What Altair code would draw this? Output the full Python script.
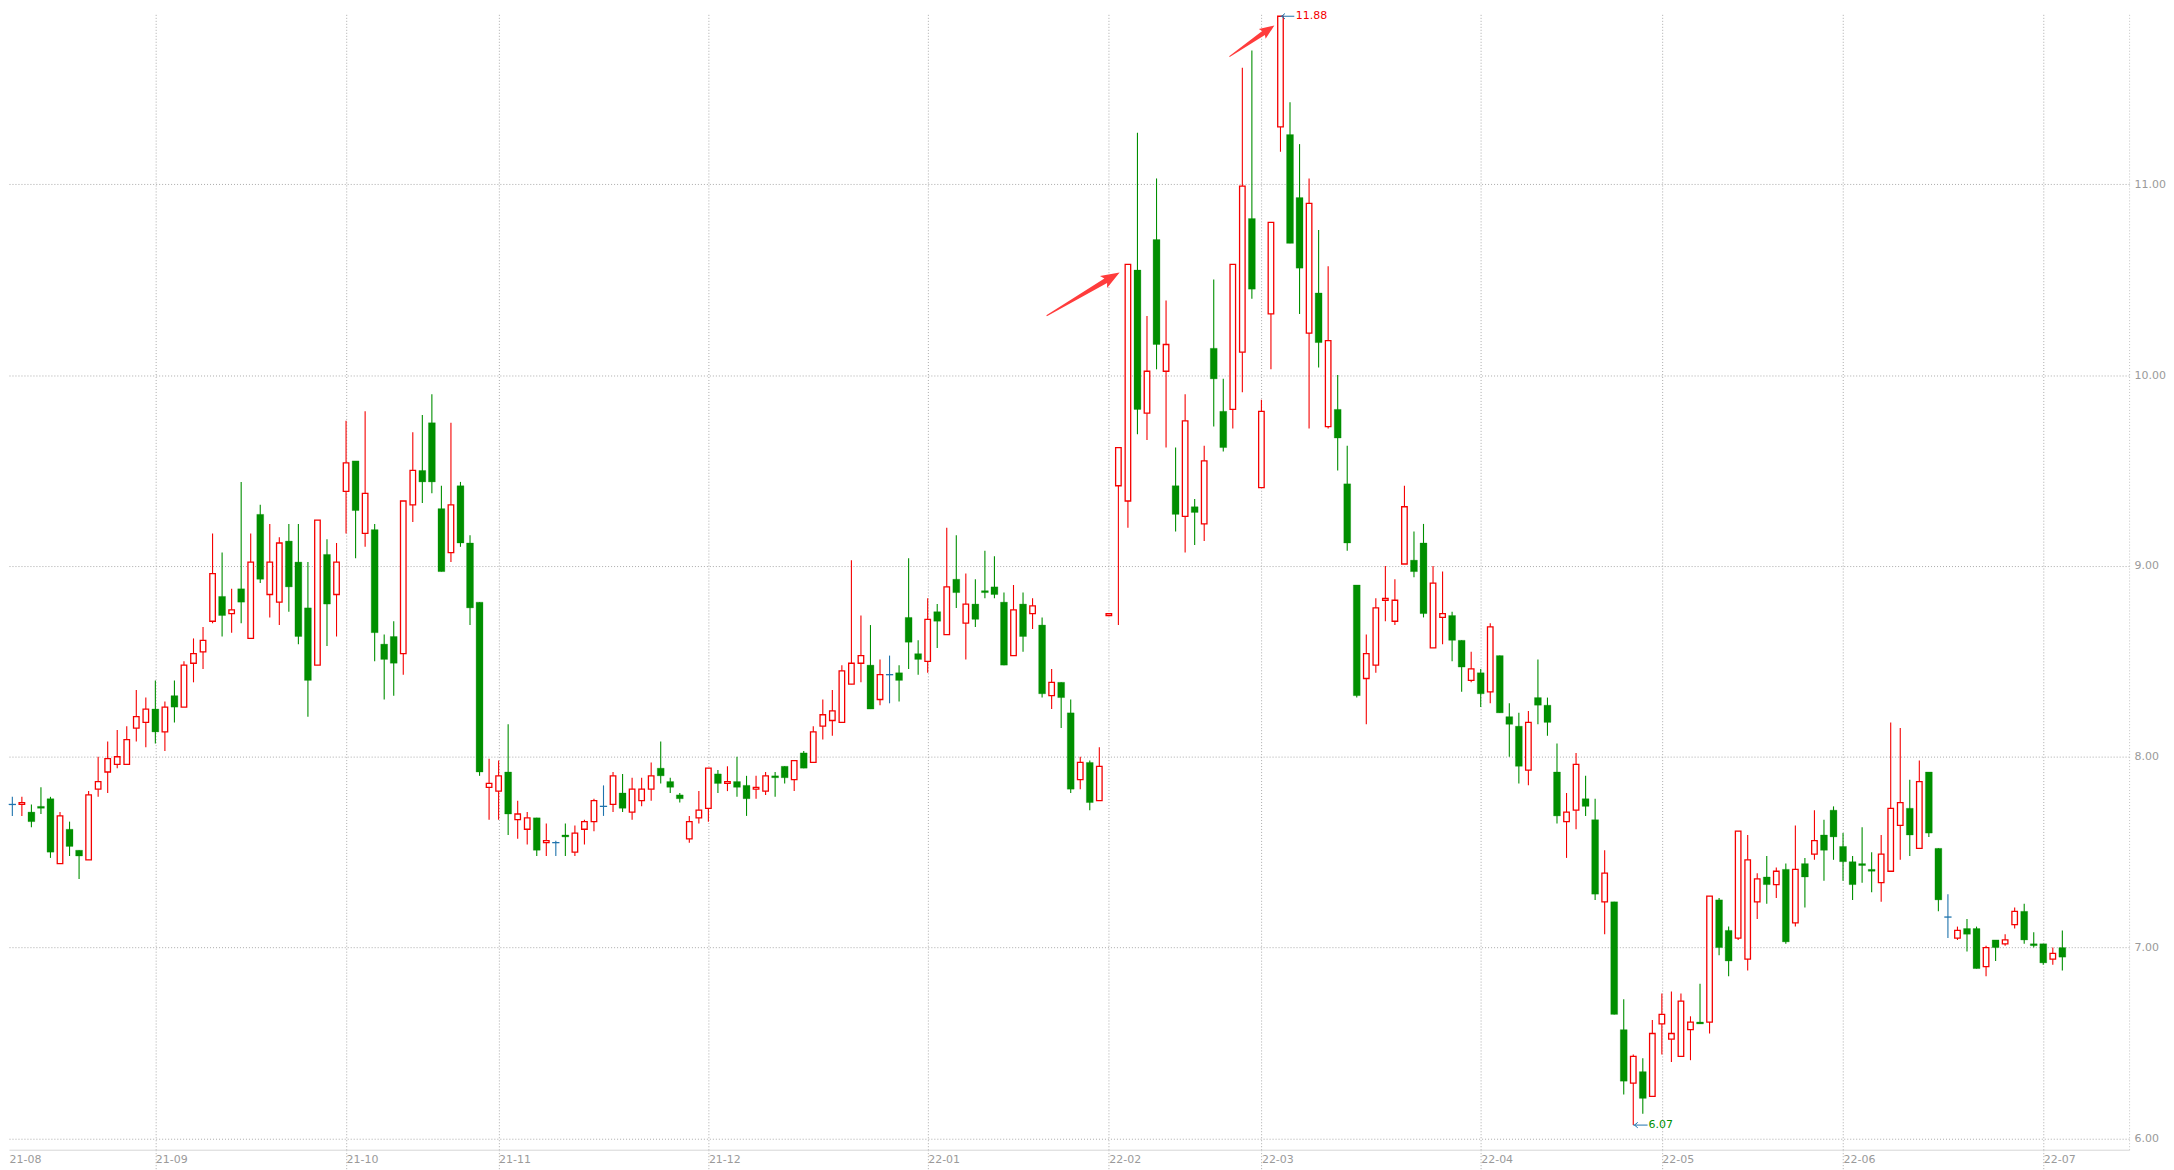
import altair as alt
import pandas as pd

# ---------------- data ----------------
opens = [
    7.75, 7.75, 7.71, 7.74, 7.78, 7.44, 7.62, 7.51, 7.46, 7.83,
    7.92, 7.96, 7.96, 8.15, 8.18, 8.25, 8.13, 8.32, 8.26, 8.49,
    8.55, 8.71, 8.84, 8.75, 8.88, 8.62, 9.27, 8.85, 8.81, 9.13,
    9.02, 8.78, 8.48, 9.06, 8.85, 9.39, 9.55, 9.17, 9.19, 8.59,
    8.63, 8.54, 9.32, 9.50, 9.75, 9.30, 9.07, 9.42, 9.12, 8.81,
    7.84, 7.82, 7.92, 7.67, 7.62, 7.68, 7.55, 7.55, 7.59, 7.50,
    7.62, 7.66, 7.74, 7.75, 7.81, 7.71, 7.77, 7.83, 7.94, 7.87,
    7.80, 7.57, 7.68, 7.73, 7.91, 7.86, 7.87, 7.85, 7.83, 7.82,
    7.90, 7.95, 7.88, 8.02, 7.97, 8.16, 8.19, 8.18, 8.38, 8.49,
    8.48, 8.30, 8.43, 8.44, 8.73, 8.54, 8.50, 8.76, 8.64, 8.93,
    8.70, 8.80, 8.87, 8.89, 8.81, 8.53, 8.80, 8.75, 8.69, 8.32,
    8.39, 8.23, 7.88, 7.97, 7.77, 8.74, 9.42, 9.34, 10.55, 9.80,
    10.71, 10.02, 9.42, 9.26, 9.31, 9.22, 10.14, 9.81, 9.82, 10.12,
    10.82, 9.41, 10.32, 11.30, 11.26, 10.93, 10.22, 10.43, 9.73, 9.82,
    9.43, 8.90, 8.41, 8.48, 8.82, 8.71, 9.01, 9.03, 9.12, 8.57,
    8.73, 8.74, 8.61, 8.40, 8.44, 8.34, 8.53, 8.21, 8.16, 7.93,
    8.31, 8.27, 7.92, 7.66, 7.72, 7.78, 7.67, 7.24, 7.24, 6.57,
    6.29, 6.35, 6.22, 6.60, 6.52, 6.43, 6.57, 6.61, 6.61, 7.25,
    7.09, 7.05, 6.94, 7.24, 7.37, 7.33, 7.41, 7.13, 7.44, 7.49,
    7.59, 7.72, 7.53, 7.45, 7.44, 7.41, 7.34, 7.40, 7.64, 7.73,
    7.52, 7.92, 7.52, 7.16, 7.05, 7.10, 7.10, 6.90, 7.04, 7.02,
    7.12, 7.19, 7.02, 7.02, 6.94, 7.00,
]
highs = [
    7.79, 7.79, 7.75, 7.84, 7.79, 7.71, 7.66, 7.51, 7.82, 8.00,
    8.08, 8.14, 8.16, 8.35, 8.31, 8.40, 8.29, 8.40, 8.50, 8.62,
    8.68, 9.17, 9.07, 8.88, 9.44, 9.17, 9.32, 9.22, 9.15, 9.22,
    9.22, 9.02, 9.24, 9.14, 9.12, 9.76, 9.55, 9.81, 9.22, 8.64,
    8.71, 9.34, 9.70, 9.79, 9.90, 9.42, 9.75, 9.44, 9.16, 8.81,
    7.99, 7.98, 8.17, 7.77, 7.71, 7.68, 7.65, 7.56, 7.65, 7.64,
    7.67, 7.78, 7.85, 7.92, 7.91, 7.89, 7.89, 7.97, 8.08, 7.89,
    7.81, 7.69, 7.82, 7.94, 7.93, 7.95, 8.00, 7.90, 7.90, 7.92,
    7.92, 7.95, 7.98, 8.03, 8.16, 8.30, 8.35, 8.48, 9.03, 8.74,
    8.69, 8.51, 8.53, 8.48, 9.04, 8.61, 8.83, 8.80, 9.20, 9.16,
    8.96, 8.93, 9.08, 9.05, 8.86, 8.90, 8.86, 8.83, 8.73, 8.46,
    8.39, 8.30, 8.00, 7.98, 8.05, 8.75, 9.62, 10.58, 11.27, 10.31,
    11.03, 10.39, 9.62, 9.90, 9.35, 9.63, 10.50, 9.98, 10.58, 11.61,
    11.70, 9.87, 10.80, 11.88, 11.43, 11.21, 11.03, 10.76, 10.57, 10.00,
    9.63, 8.90, 8.64, 8.83, 9.00, 8.93, 9.42, 9.18, 9.22, 9.00,
    8.97, 8.76, 8.61, 8.55, 8.46, 8.70, 8.53, 8.28, 8.23, 8.24,
    8.51, 8.31, 8.07, 7.81, 8.02, 7.90, 7.78, 7.51, 7.24, 6.73,
    6.44, 6.42, 6.62, 6.76, 6.77, 6.76, 6.64, 6.81, 7.27, 7.26,
    7.11, 7.61, 7.59, 7.39, 7.48, 7.42, 7.44, 7.64, 7.47, 7.72,
    7.67, 7.74, 7.60, 7.48, 7.63, 7.50, 7.59, 8.18, 8.15, 7.88,
    7.98, 7.92, 7.52, 7.28, 7.11, 7.15, 7.11, 7.01, 7.04, 7.07,
    7.21, 7.23, 7.08, 7.02, 7.00, 7.09,
]
lows = [
    7.69, 7.69, 7.63, 7.70, 7.47, 7.44, 7.48, 7.36, 7.46, 7.79,
    7.81, 7.94, 7.96, 8.08, 8.05, 8.07, 8.03, 8.18, 8.26, 8.39,
    8.46, 8.70, 8.63, 8.65, 8.70, 8.62, 8.91, 8.73, 8.69, 8.76,
    8.59, 8.21, 8.48, 8.58, 8.63, 9.17, 9.04, 9.10, 8.50, 8.30,
    8.32, 8.43, 9.23, 9.33, 9.38, 8.97, 9.02, 9.10, 8.69, 7.90,
    7.67, 7.67, 7.59, 7.57, 7.54, 7.48, 7.48, 7.48, 7.48, 7.48,
    7.54, 7.61, 7.69, 7.71, 7.71, 7.67, 7.74, 7.77, 7.86, 7.81,
    7.76, 7.55, 7.65, 7.66, 7.81, 7.82, 7.79, 7.69, 7.78, 7.80,
    7.79, 7.86, 7.82, 7.94, 7.97, 8.09, 8.11, 8.18, 8.38, 8.39,
    8.25, 8.27, 8.28, 8.29, 8.46, 8.43, 8.44, 8.57, 8.64, 8.78,
    8.51, 8.68, 8.83, 8.83, 8.48, 8.53, 8.55, 8.67, 8.31, 8.25,
    8.15, 7.81, 7.83, 7.72, 7.77, 8.74, 8.69, 9.20, 9.69, 9.66,
    10.03, 9.62, 9.18, 9.07, 9.11, 9.13, 9.73, 9.60, 9.72, 9.91,
    10.40, 9.41, 10.03, 11.17, 10.69, 10.32, 9.72, 10.04, 9.72, 9.50,
    9.08, 8.31, 8.17, 8.44, 8.71, 8.69, 9.01, 8.94, 8.73, 8.57,
    8.59, 8.50, 8.34, 8.39, 8.26, 8.28, 8.23, 8.00, 7.86, 7.85,
    8.17, 8.11, 7.65, 7.47, 7.62, 7.69, 7.25, 7.07, 6.65, 6.23,
    6.07, 6.13, 6.22, 6.44, 6.40, 6.43, 6.41, 6.60, 6.55, 6.96,
    6.85, 7.04, 6.88, 7.15, 7.23, 7.26, 7.02, 7.11, 7.21, 7.46,
    7.35, 7.46, 7.35, 7.25, 7.34, 7.29, 7.24, 7.40, 7.46, 7.48,
    7.52, 7.58, 7.19, 7.05, 7.04, 6.98, 6.89, 6.85, 6.93, 7.01,
    7.10, 7.02, 7.00, 6.91, 6.91, 6.88,
]
closes = [
    7.75, 7.76, 7.66, 7.73, 7.50, 7.69, 7.53, 7.48, 7.80, 7.87,
    7.99, 8.00, 8.09, 8.21, 8.25, 8.13, 8.26, 8.26, 8.48, 8.54,
    8.61, 8.96, 8.74, 8.77, 8.81, 9.02, 8.93, 9.02, 9.12, 8.89,
    8.63, 8.40, 9.24, 8.80, 9.02, 9.54, 9.29, 9.38, 8.65, 8.51,
    8.49, 9.34, 9.50, 9.44, 9.44, 8.97, 9.32, 9.12, 8.78, 7.92,
    7.86, 7.90, 7.70, 7.70, 7.68, 7.51, 7.56, 7.55, 7.58, 7.60,
    7.66, 7.77, 7.74, 7.90, 7.73, 7.83, 7.83, 7.90, 7.90, 7.84,
    7.78, 7.66, 7.72, 7.94, 7.86, 7.87, 7.84, 7.78, 7.84, 7.90,
    7.89, 7.89, 7.98, 7.94, 8.13, 8.22, 8.24, 8.45, 8.49, 8.53,
    8.25, 8.43, 8.43, 8.40, 8.60, 8.51, 8.72, 8.71, 8.89, 8.86,
    8.80, 8.72, 8.86, 8.85, 8.48, 8.77, 8.63, 8.79, 8.33, 8.39,
    8.31, 7.83, 7.97, 7.76, 7.95, 8.75, 9.62, 10.58, 9.82, 10.02,
    10.16, 10.16, 9.27, 9.76, 9.28, 9.55, 9.98, 9.62, 10.58, 10.99,
    10.45, 9.81, 10.80, 11.88, 10.69, 10.56, 10.90, 10.17, 10.18, 9.67,
    9.12, 8.32, 8.54, 8.78, 8.83, 8.82, 9.31, 8.97, 8.75, 8.91,
    8.75, 8.61, 8.47, 8.46, 8.33, 8.68, 8.23, 8.17, 7.95, 8.18,
    8.27, 8.18, 7.69, 7.71, 7.96, 7.74, 7.28, 7.39, 6.65, 6.30,
    6.43, 6.21, 6.55, 6.65, 6.55, 6.72, 6.61, 6.60, 7.27, 7.00,
    6.93, 7.61, 7.46, 7.36, 7.33, 7.40, 7.03, 7.41, 7.37, 7.56,
    7.51, 7.58, 7.45, 7.33, 7.43, 7.40, 7.49, 7.73, 7.76, 7.59,
    7.87, 7.60, 7.25, 7.16, 7.09, 7.07, 6.89, 7.00, 7.00, 7.04,
    7.19, 7.04, 7.01, 6.92, 6.97, 6.95,
]

# month labels and the trading-day index of each month's first candle
month_labels = ["21-08", "21-09", "21-10", "21-11", "21-12", "22-01",
                "22-02", "22-03", "22-04", "22-05", "22-06", "22-07"]
month_index = [0.65, 16, 36, 52, 74, 97, 116, 132, 155, 174, 193, 214]

price_ticks = [6, 7, 8, 9, 10, 11]

# annotation arrows (centre position in data space, rotation)
arrow_index = [113.3, 131.0]
arrow_price = [10.424, 11.75]
arrow_angle = [329.4, 325.3]

# ---------------- styling ----------------
RED = "#f50000"
GREEN = "#008f00"
BLUE = "#1f73ad"
ARROW_RED = "#ff3c3c"
GRID = "#ababab"
LABEL = "#9a9a9a"
FONT = "DejaVu Sans"

n = len(opens)
idx = list(range(1, n + 1))
kind = ["up" if c > o else ("down" if c < o else "flat") for o, c in zip(opens, closes)]
df = pd.DataFrame({"idx": idx, "open": opens, "high": highs, "low": lows,
                   "close": closes, "kind": kind})

XS = alt.Scale(domain=[0.65, 223.0], nice=False, zero=False)
YS = alt.Scale(domain=[5.941, 11.89], nice=False, zero=False)

hide_first = {"condition": {"test": "datum.value < 1", "value": "transparent"}, "value": GRID}
label_expr = "[" + ",".join("'%s'" % s for s in month_labels) + "][indexof([" + \
    ",".join(str(v) for v in month_index) + "], datum.value)]"

X_AXIS = alt.Axis(values=month_index, labelExpr=label_expr, title=None,
                  grid=True, gridColor=hide_first, gridDash=[1, 2], gridWidth=1,
                  ticks=True, tickSize=23, tickColor=hide_first, tickDash=[1, 2],
                  domain=True, domainColor="#d6d6d6", domainWidth=1,
                  labelAlign="left", labelBaseline="middle",
                  labelPadding=-13, labelColor=LABEL, labelFont=FONT,
                  labelFontSize=11, labelFlush=False, labelOverlap=False,
                  labelBound=False)
Y_AXIS = alt.Axis(orient="right", values=price_ticks, format=".2f", title=None,
                  grid=True, gridColor=GRID, gridDash=[1, 2], gridWidth=1,
                  ticks=False, domain=True, domainColor="#c4c4c4", domainDash=[1, 2],
                  labelPadding=5, labelColor=LABEL, labelFont=FONT, labelFontSize=11)

color_scale = alt.Scale(domain=["up", "down", "flat"], range=[RED, GREEN, BLUE])

base = alt.Chart(df)

wicks = base.mark_rule(strokeWidth=1.1).encode(
    x=alt.X("idx:Q", scale=XS, axis=X_AXIS),
    y=alt.Y("low:Q", scale=YS, axis=Y_AXIS),
    y2="high:Q",
    color=alt.Color("kind:N", scale=color_scale, legend=None),
)

up_bodies = base.transform_filter("datum.kind == 'up'").transform_calculate(
    xa="datum.idx - 0.29", xb="datum.idx + 0.29"
).mark_rect(fill="white", stroke=RED, strokeWidth=1.3).encode(
    x=alt.X("xa:Q", scale=XS, axis=X_AXIS), x2="xb:Q",
    y=alt.Y("open:Q", scale=YS, axis=Y_AXIS), y2="close:Q",
)

down_bodies = base.transform_filter("datum.kind == 'down'").transform_calculate(
    xa="datum.idx - 0.36", xb="datum.idx + 0.36"
).mark_rect(fill=GREEN, stroke=GREEN, strokeWidth=0.3).encode(
    x=alt.X("xa:Q", scale=XS, axis=X_AXIS), x2="xb:Q",
    y=alt.Y("open:Q", scale=YS, axis=Y_AXIS), y2="close:Q",
)

flat_bodies = base.transform_filter("datum.kind == 'flat'").transform_calculate(
    xa="datum.idx - 0.38", xb="datum.idx + 0.38"
).mark_rule(color=BLUE, strokeWidth=1.3).encode(
    x=alt.X("xa:Q", scale=XS, axis=X_AXIS), x2="xb:Q",
    y=alt.Y("close:Q", scale=YS, axis=Y_AXIS),
)

# ---- max / min markers ----
hi = max(highs)
lo = min(lows)
hi_i = highs.index(hi) + 1
lo_i = lows.index(lo) + 1
marks_df = pd.DataFrame({
    "x": [hi_i, lo_i], "x2": [hi_i + 1.45, lo_i + 1.5],
    "xt": [hi_i + 1.6, lo_i + 1.6], "xc": [hi_i + 0.3, lo_i + 0.3],
    "p": [hi, lo], "txt": ["%.2f" % hi, "%.2f" % lo], "which": ["max", "min"],
})
mk = alt.Chart(marks_df)
ext_rules = mk.mark_rule(color=BLUE, strokeWidth=1).encode(
    x=alt.X("x:Q", scale=XS, axis=X_AXIS), x2="x2:Q",
    y=alt.Y("p:Q", scale=YS, axis=Y_AXIS),
)
ext_chev = mk.mark_point(shape="M 0.6 -1 L -0.6 0 L 0.6 1", size=30, filled=False,
                         strokeWidth=1, color=BLUE, opacity=1).encode(
    x=alt.X("xc:Q", scale=XS, axis=X_AXIS),
    y=alt.Y("p:Q", scale=YS, axis=Y_AXIS),
)
ext_text = mk.mark_text(align="left", baseline="middle", font=FONT, fontSize=11).encode(
    x=alt.X("xt:Q", scale=XS, axis=X_AXIS),
    y=alt.Y("p:Q", scale=YS, axis=Y_AXIS),
    text="txt:N",
    color=alt.Color("which:N", scale=alt.Scale(domain=["max", "min"], range=[RED, GREEN]),
                    legend=None),
)

# ---- red arrows (tapered wedge with head) ----
arrow_df = pd.DataFrame({"ax": arrow_index, "ay": arrow_price, "ang": arrow_angle})
ARROW1 = "M -1 -0.012 L 0.62 -0.062 L 0.56 -0.165 L 1 0 L 0.56 0.165 L 0.62 0.062 L -1 0.012 Z"
ARROW2 = "M -1 -0.018 L 0.52 -0.085 L 0.46 -0.22 L 1 0 L 0.46 0.22 L 0.52 0.085 L -1 0.018 Z"
arrow1 = alt.Chart(arrow_df.iloc[[0]]).mark_point(
    shape=ARROW1, size=7225, filled=True, color=ARROW_RED, opacity=1, strokeWidth=0
).encode(
    x=alt.X("ax:Q", scale=XS, axis=X_AXIS), y=alt.Y("ay:Q", scale=YS, axis=Y_AXIS),
    angle=alt.Angle("ang:Q", scale=None),
)
arrow2 = alt.Chart(arrow_df.iloc[[1]]).mark_point(
    shape=ARROW2, size=3000, filled=True, color=ARROW_RED, opacity=1, strokeWidth=0
).encode(
    x=alt.X("ax:Q", scale=XS, axis=X_AXIS), y=alt.Y("ay:Q", scale=YS, axis=Y_AXIS),
    angle=alt.Angle("ang:Q", scale=None),
)

chart = alt.layer(
    wicks, up_bodies, down_bodies, flat_bodies,
    ext_rules, ext_chev, ext_text, arrow1, arrow2,
).properties(
    width=2125, height=1138, padding=0, background="white",
).configure_view(stroke=None)

chart.save("out.html", embed_options={"renderer": "svg", "actions": False})
